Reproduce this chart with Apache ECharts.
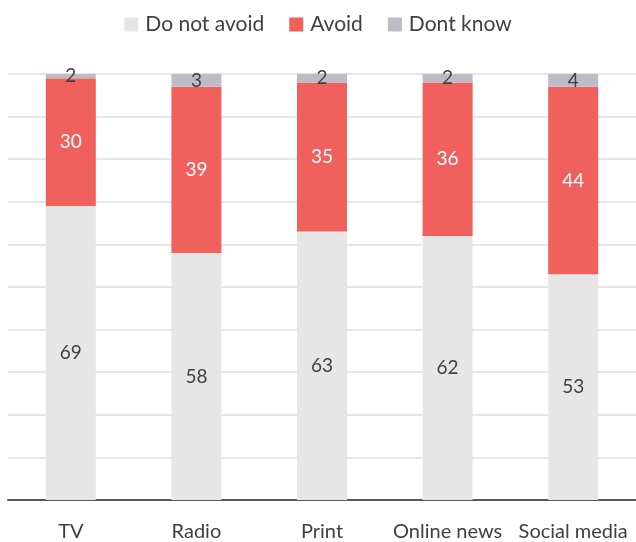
<!DOCTYPE html>
<html>
<head>
<meta charset="utf-8">
<script src="https://cdn.jsdelivr.net/npm/echarts@6/dist/echarts.min.js"></script>
<style>
  html, body { margin: 0; padding: 0; background: #fff; }
  #chart { width: 636px; height: 542px; }
</style>
</head>
<body>
<div id="chart"></div>
<script>
// Share of people who avoid each kind of media (percent)
const categories = ['TV', 'Radio', 'Print', 'Online news', 'Social media'];
const doNotAvoid = [69, 58, 63, 62, 53];
const avoid = [30, 39, 35, 36, 44];
const dontKnow = [2, 3, 2, 2, 4];

const FONT = 'Lato';
const chart = echarts.init(document.getElementById('chart'));

function seriesOf(name, data, color, labelColor) {
  return {
    name: name,
    type: 'bar',
    stack: 'total',
    data: data,
    barWidth: 50,
    itemStyle: { color: color },
    label: {
      show: true,
      position: 'inside',
      color: labelColor,
      fontFamily: FONT,
      fontSize: 19
    },
    emphasis: { disabled: true }
  };
}

chart.setOption({
  animation: false,
  textStyle: { fontFamily: FONT },
  legend: {
    top: 9,
    left: 'center',
    itemWidth: 14,
    itemHeight: 14,
    itemGap: 25,
    icon: 'rect',
    textStyle: { fontFamily: FONT, fontSize: 21, color: '#404040', padding: [0, 0, 0, 2] },
    data: ['Do not avoid', 'Avoid', 'Dont know']
  },
  grid: { left: 8, right: -2, top: 74, bottom: 40, containLabel: false },
  xAxis: {
    type: 'category',
    data: categories,
    axisTick: { show: false },
    axisLine: { lineStyle: { color: '#595959', width: 2 } },
    axisLabel: {
      interval: 0,
      hideOverlap: false,
      fontFamily: FONT,
      fontSize: 20,
      color: '#404040',
      margin: 22
    }
  },
  yAxis: {
    type: 'value',
    min: 0,
    max: 100,
    interval: 10,
    axisLabel: { show: false },
    axisLine: { show: false },
    axisTick: { show: false },
    splitLine: { lineStyle: { color: '#dedede', width: 1.5 } }
  },
  series: [
    seriesOf('Do not avoid', doNotAvoid, '#e6e6e6', '#404040'),
    seriesOf('Avoid', avoid, '#f0605d', '#ffffff'),
    seriesOf('Dont know', dontKnow, '#bdbcc6', '#404040')
  ]
});
</script>
</body>
</html>
